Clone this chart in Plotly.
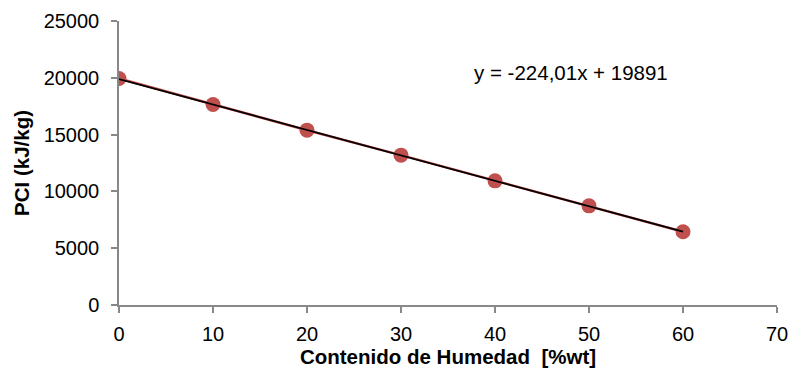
import plotly.graph_objects as go

# Moisture content (%wt) and lower heating value PCI (kJ/kg)
humedad = [0, 10, 20, 30, 40, 50, 60]
pci = [19935, 17650, 15390, 13190, 10930, 8730, 6446]

# Linear trend coefficients
pendiente = -224.01
intercepto = 19891

x_ticks = [0, 10, 20, 30, 40, 50, 60, 70]
y_ticks = [0, 5000, 10000, 15000, 20000, 25000]
y_tick_text = [str(v) for v in y_ticks]

tend_x = [min(humedad), max(humedad)]
tend_y = [pendiente * v + intercepto for v in tend_x]

axis_grey = "#888888"
font_family = "Liberation Sans, Arial, sans-serif"
fs = 20

fig = go.Figure()
fig.add_trace(go.Scatter(
    x=humedad, y=pci, mode="lines+markers",
    line=dict(color="#C0504D", width=2.5),
    marker=dict(color="#C0504D", size=15),
    showlegend=False,
))
fig.add_trace(go.Scatter(
    x=tend_x, y=tend_y, mode="lines",
    line=dict(color="black", width=1.8),
    showlegend=False,
))

fig.add_annotation(
    x=37.6, y=20450, xref="x", yref="y",
    text="y = -224,01x + 19891", showarrow=False,
    xanchor="left", yanchor="middle",
    font=dict(family=font_family, size=20.5, color="black"),
)

fig.update_layout(
    width=794, height=375,
    margin=dict(l=119, r=17, t=21, b=70, autoexpand=False),
    plot_bgcolor="white", paper_bgcolor="white",
    font=dict(family=font_family, size=fs, color="black"),
)
fig.update_xaxes(
    range=[0, 70], tickvals=x_ticks, showgrid=False, zeroline=False,
    automargin=False,
    showline=True, linecolor=axis_grey, linewidth=1.5,
    ticks="outside", ticklen=6, tickcolor=axis_grey, tickwidth=1.5,
    tickfont=dict(size=fs), ticklabelstandoff=4,
    title=dict(text="<b>Contenido de Humedad  [%wt]</b>", font=dict(size=20.5), standoff=6),
)
fig.update_yaxes(
    range=[0, 25000], tickvals=y_ticks, ticktext=y_tick_text,
    showgrid=False, zeroline=False, automargin=False,
    showline=True, linecolor=axis_grey, linewidth=1.5,
    ticks="outside", ticklen=6, tickcolor=axis_grey, tickwidth=1.5,
    tickfont=dict(size=fs), ticklabelstandoff=8,
    title=dict(text="<b>PCI (kJ/kg)</b>", font=dict(size=20.5), standoff=8),
)

fig.write_html("out.html")
